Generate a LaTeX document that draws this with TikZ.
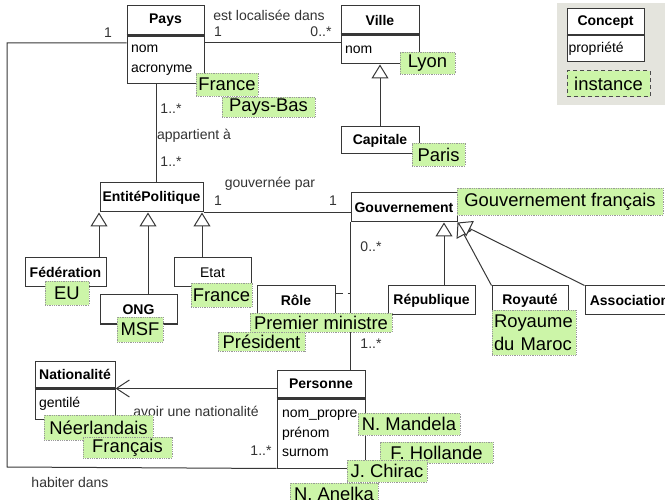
\documentclass[tikz,border=0pt]{standalone}
\usepackage{fontspec}
\setmainfont{Liberation Sans}
\usepackage{tikz}
\usetikzlibrary{arrows.meta,positioning}
\definecolor{vertinst}{RGB}{204,245,168}
\definecolor{fondleg}{RGB}{228,228,221}
\definecolor{trait}{RGB}{55,55,55}
\tikzstyle{classe}=[
	draw=trait,
	line width=1pt,
	fill=white,
	inner sep=0pt,
	font=\fontsize{14}{16}\selectfont\bfseries
]
\tikzstyle{attributs}=[
	draw=trait,
	line width=1pt,
	fill=white,
	inner ysep=0pt,
	inner xsep=4pt,
	align=left,
	font=\fontsize{14}{19.5}\selectfont
]
\tikzstyle{separation}=[
	draw=trait,
	line width=2.5pt
]
\tikzstyle{instance}=[
	fill=vertinst,
	draw=black!40,
	densely dotted,
	line width=0.8pt,
	inner sep=0pt,
	font=\fontsize{18.4}{23}\selectfont
]
\tikzstyle{etiquette}=[
	inner sep=0pt,
	text=black!80,
	font=\fontsize{14}{16}\selectfont
]
\tikzstyle{lien}=[
	-,
	draw=trait,
	line width=1pt
]
\tikzstyle{generalisation}=[
	lien,
	-{Triangle[fill=white,length=14pt,width=17pt]}
]
\tikzstyle{navigable}=[
	lien,
	-{Straight Barb[length=13pt,width=17pt]}
]

\begin{document}
\begin{tikzpicture}[x=1pt,y=-1pt]
\useasboundingbox (0,0) rectangle (665,500);
\clip (0,0) rectangle (665,500);

% legende
\fill[fondleg] (557,3) rectangle (665,105);
\node[classe, minimum width=77pt, minimum height=26pt] (concept) at (605.5,22) {Concept};
\node[attributs, below=0pt of concept, inner xsep=1.5pt, text width=74pt, minimum height=26pt] (conceptattr) {propriété};
\draw[lien] (concept.south west) -- (concept.south east);
\node[instance, draw=black!70, solid, dash pattern=on 4pt off 3pt, line width=1pt, minimum width=83pt, minimum height=26pt] (legendeinst) at (608.5,84) {instance};

% classes
\node[classe, minimum width=77pt, minimum height=29pt] (pays) at (165.5,20.5) {Pays};
\node[attributs, below=0pt of pays, text width=69pt, minimum height=48pt] (paysattr) {nom\\acronyme};
\draw[separation] (pays.south west) -- (pays.south east);

\node[classe, minimum width=78pt, minimum height=28pt] (ville) at (380,20) {Ville};
\node[attributs, below=0pt of ville, text width=70pt, minimum height=29pt] (villeattr) {nom};
\draw[separation] (ville.south west) -- (ville.south east);

\node[classe, minimum width=78pt, minimum height=27pt] (capitale) at (380,140.5) {Capitale};
\node[classe, minimum width=103pt, minimum height=29pt] (entite) at (151.5,197.5) {EntitéPolitique};
\node[classe, minimum width=81pt, minimum height=29pt] (federation) at (65.5,272.5) {Fédération};
\node[classe, minimum width=77pt, minimum height=29pt] (ong) at (138.5,309.5) {ONG};
\node[classe, font=\fontsize{14}{16}\selectfont, minimum width=77pt, minimum height=29pt] (etat) at (212.5,272.5) {Etat};
\node[classe, minimum width=106pt, minimum height=29pt] (gouv) at (404,207.5) {Gouvernement};
\node[classe, minimum width=78pt, minimum height=29pt] (role) at (296,300.5) {Rôle};
\node[classe, minimum width=87pt, minimum height=29pt] (republique) at (431.5,300.5) {République};
\node[classe, minimum width=76pt, minimum height=29pt] (royaute) at (530,300.5) {Royauté};
\node[classe, minimum width=89pt, minimum height=29pt] (association) at (629.5,300.5) {Association};

\node[classe, minimum width=88pt, minimum height=28pt] (personne) at (321,384) {Personne};
\node[attributs, below=0pt of personne, inner xsep=5pt, text width=78pt, minimum height=69pt] (personneattr) {nom\_propre\\prénom\\surnom};
\draw[separation] (personne.south west) -- (personne.south east);

\node[classe, minimum width=80pt, minimum height=27pt] (natio) at (75,374.5) {Nationalité};
\node[attributs, below=0pt of natio, text width=72pt, minimum height=30pt] (natioattr) {gentilé};
\draw[separation] (natio.south west) -- (natio.south east);

% liens
\coordinate (coinhaut) at (7,43);
\coordinate (coinbas) at (7,467);
\coordinate (axeapp) at (156,0);
\coordinate (axefed) at (99,0);
\coordinate (axeong) at (148,0);
\coordinate (axeetat) at (202,0);
\coordinate (axerep) at (444,0);
\coordinate (axerole) at (0,294);

\draw[lien] (paysattr.west |- coinhaut) -- (coinhaut) -- (coinbas) -- (personneattr.south west);
\draw[lien] (paysattr.east |- coinhaut) -- (villeattr.west |- coinhaut);
\draw[generalisation] (capitale.north) -- (villeattr.south);
\draw[lien] (paysattr.south -| axeapp) -- (entite.north -| axeapp);
\draw[generalisation] (federation.north -| axefed) -- (entite.south -| axefed);
\draw[generalisation] (ong.north -| axeong) -- (entite.south -| axeong);
\draw[generalisation] (etat.north -| axeetat) -- (entite.south -| axeetat);
\draw[lien] (entite.south east) -- (entite.south east -| gouv.west);
\draw[lien] (gouv.south west) -- (gouv.south west |- personne.north);
\draw[lien, dash pattern=on 7pt off 5pt] (role.east |- axerole) -- (gouv.south west |- axerole);
\draw[generalisation] (republique.north -| axerep) -- (gouv.south -| axerep);
\draw[generalisation] (royaute.north west) -- (gouv.south east);
\draw[generalisation] (association.north west) -- (gouv.south east);
\draw[navigable] (personne.west |- natio.south east) -- (natio.south east);

% etiquettes
\node[etiquette] (mult1) at (108,33) {1};
\node[etiquette] (nomloc) at (269,15) {est localisée dans};
\node[etiquette] (mult2) at (218,32) {1};
\node[etiquette] (mult3) at (321,32) {0..*};
\node[etiquette] (mult4) at (171,109) {1..*};
\node[etiquette] (nomapp) at (194,136) {appartient à};
\node[etiquette] (mult5) at (171,162) {1..*};
\node[etiquette] (nomgouv) at (270,184) {gouvernée par};
\node[etiquette] (mult6) at (218,201) {1};
\node[etiquette] (mult7) at (333,201) {1};
\node[etiquette] (mult8) at (371,247) {0..*};
\node[etiquette] (mult9) at (371,344) {1..*};
\node[etiquette] (nomnatio) at (196,411) {avoir une nationalité};
\node[etiquette] (mult10) at (261,451) {1..*};
\node[etiquette] (nomhab) at (70,482) {habiter dans};

% instances
\node[instance, minimum width=62pt, minimum height=23pt] (france) at (227,84.5) {France};
\node[instance, minimum width=93pt, minimum height=20pt] (paysbas) at (268.5,107) {Pays-Bas};
\node[instance, minimum width=55pt, minimum height=22pt] (lyon) at (427.5,63) {Lyon};
\node[instance, minimum width=53pt, minimum height=23pt] (paris) at (438.5,154.5) {Paris};
\node[instance, minimum width=44pt, minimum height=24pt] (eu) at (67,293) {EU};
\node[instance, minimum width=46pt, minimum height=25pt] (msf) at (140,329.5) {MSF};
\node[instance, minimum width=61pt, minimum height=24pt] (franceetat) at (221.5,295) {France};
\node[instance, minimum width=206pt, minimum height=27pt] (gouvfr) at (560,201.5) {Gouvernement français};
\node[instance, minimum width=142pt, minimum height=19pt] (premier) at (321,322.5) {Premier ministre};
\node[instance, minimum width=87pt, minimum height=19pt] (president) at (261.5,341.5) {Président};
\node[instance, align=left, inner xsep=2pt, text width=80pt, minimum height=45pt] (maroc) at (534,332.5) {Royaume\\du Maroc};
\node[instance, minimum width=109pt, minimum height=25pt] (neerl) at (98.5,427.5) {Néerlandais};
\node[instance, minimum width=89pt, minimum height=21pt] (francais) at (127.5,447.5) {Français};
\node[instance, minimum width=102pt, minimum height=22pt] (mandela) at (409,424) {N. Mandela};
\node[instance, minimum width=113pt, minimum height=21pt] (hollande) at (436.5,452.5) {F. Hollande};
\node[instance, minimum width=80pt, minimum height=22pt] (chirac) at (387,471) {J. Chirac};
\node[instance, minimum width=88pt, minimum height=22pt] (anelka) at (334,494) {N. Anelka};

\end{tikzpicture}
\end{document}
